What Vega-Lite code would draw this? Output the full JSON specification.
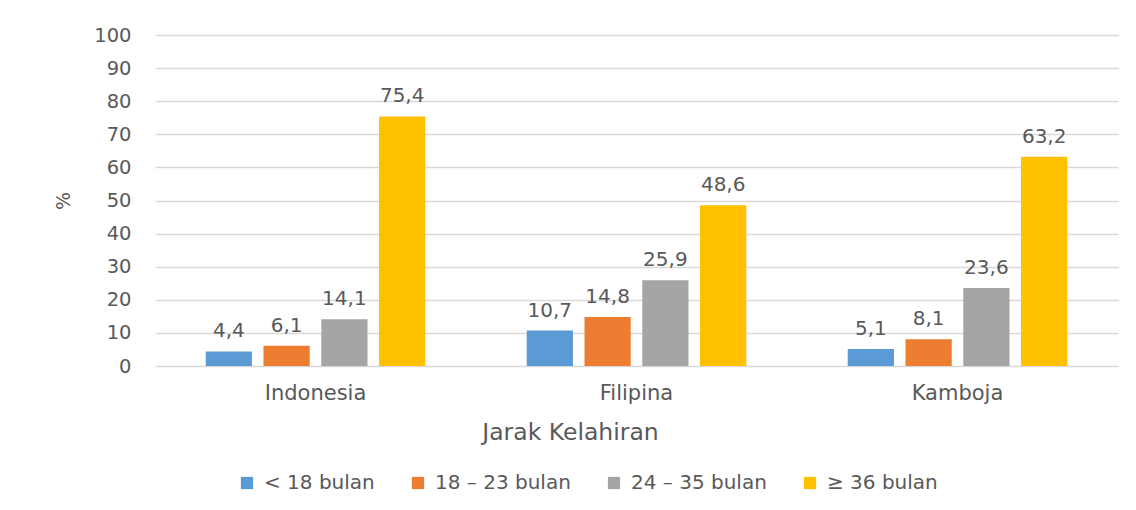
{
  "$schema": "https://vega.github.io/schema/vega-lite/v6.json",
  "autosize": {"type": "none"},
  "width": 963,
  "height": 331,
  "padding": {"left": 155, "top": 35, "right": 18, "bottom": 144},
  "background": "white",
  "config": {
    "locale": {"number": {"decimal": ",", "thousands": ".", "grouping": [3], "currency": ["", ""]}},
    "font": "DejaVu Sans",
    "view": {"stroke": null}
  },
  "data": {
    "values": [
      {"negara": "Indonesia", "jarak": "< 18 bulan", "nilai": 4.4},
      {"negara": "Indonesia", "jarak": "18 – 23 bulan", "nilai": 6.1},
      {"negara": "Indonesia", "jarak": "24 – 35 bulan", "nilai": 14.1},
      {"negara": "Indonesia", "jarak": "≥ 36 bulan", "nilai": 75.4},
      {"negara": "Filipina", "jarak": "< 18 bulan", "nilai": 10.7},
      {"negara": "Filipina", "jarak": "18 – 23 bulan", "nilai": 14.8},
      {"negara": "Filipina", "jarak": "24 – 35 bulan", "nilai": 25.9},
      {"negara": "Filipina", "jarak": "≥ 36 bulan", "nilai": 48.6},
      {"negara": "Kamboja", "jarak": "< 18 bulan", "nilai": 5.1},
      {"negara": "Kamboja", "jarak": "18 – 23 bulan", "nilai": 8.1},
      {"negara": "Kamboja", "jarak": "24 – 35 bulan", "nilai": 23.6},
      {"negara": "Kamboja", "jarak": "≥ 36 bulan", "nilai": 63.2}
    ]
  },
  "encoding": {
    "x": {
      "field": "negara", "type": "nominal", "sort": ["Indonesia", "Filipina", "Kamboja"],
      "scale": {"paddingInner": 0.28, "paddingOuter": 0.14},
      "axis": {
        "title": "Jarak Kelahiran", "labelAngle": 0, "ticks": false,
        "domain": false, "labelPadding": 16, "labelFontSize": 21, "labelColor": "#595959",
        "titleFontSize": 23.5, "titleFontWeight": "normal", "titleColor": "#595959", "titlePadding": 17,
        "titleX": 415
      }
    },
    "xOffset": {"field": "jarak", "type": "nominal", "sort": ["< 18 bulan", "18 – 23 bulan", "24 – 35 bulan", "≥ 36 bulan"], "scale": {"paddingInner": 0.2, "paddingOuter": 0.1}},
    "y": {
      "field": "nilai", "type": "quantitative",
      "scale": {"domain": [0, 100]},
      "axis": {
        "title": "%", "values": [0, 10, 20, 30, 40, 50, 60, 70, 80, 90, 100],
        "ticks": false, "domain": false, "labelPadding": 24, "labelFontSize": 19.5, "labelColor": "#595959",
        "gridColor": "#d9d9d9", "gridWidth": 1.5,
        "titleFontSize": 19, "titleFontWeight": "normal", "titleColor": "#595959", "titlePadding": 20
      }
    }
  },
  "layer": [
    {
      "mark": {"type": "bar"},
      "encoding": {
        "color": {
          "field": "jarak", "type": "nominal",
          "sort": ["< 18 bulan", "18 – 23 bulan", "24 – 35 bulan", "≥ 36 bulan"],
          "scale": {"range": ["#5b9bd5", "#ed7d31", "#a5a5a5", "#ffc000"]},
          "legend": {
            "title": null, "orient": "none", "direction": "horizontal",
            "legendX": 82, "legendY": 438,
            "symbolType": "square", "symbolSize": 150, "symbolStrokeWidth": 0,
            "labelFontSize": 20, "labelColor": "#595959", "columnPadding": 33, "labelOffset": 7
          }
        }
      }
    },
    {
      "mark": {"type": "text", "dy": -14, "fontSize": 20, "color": "#595959", "baseline": "alphabetic"},
      "encoding": {
        "text": {"field": "nilai", "type": "quantitative", "format": ".1f"}
      }
    }
  ]
}
